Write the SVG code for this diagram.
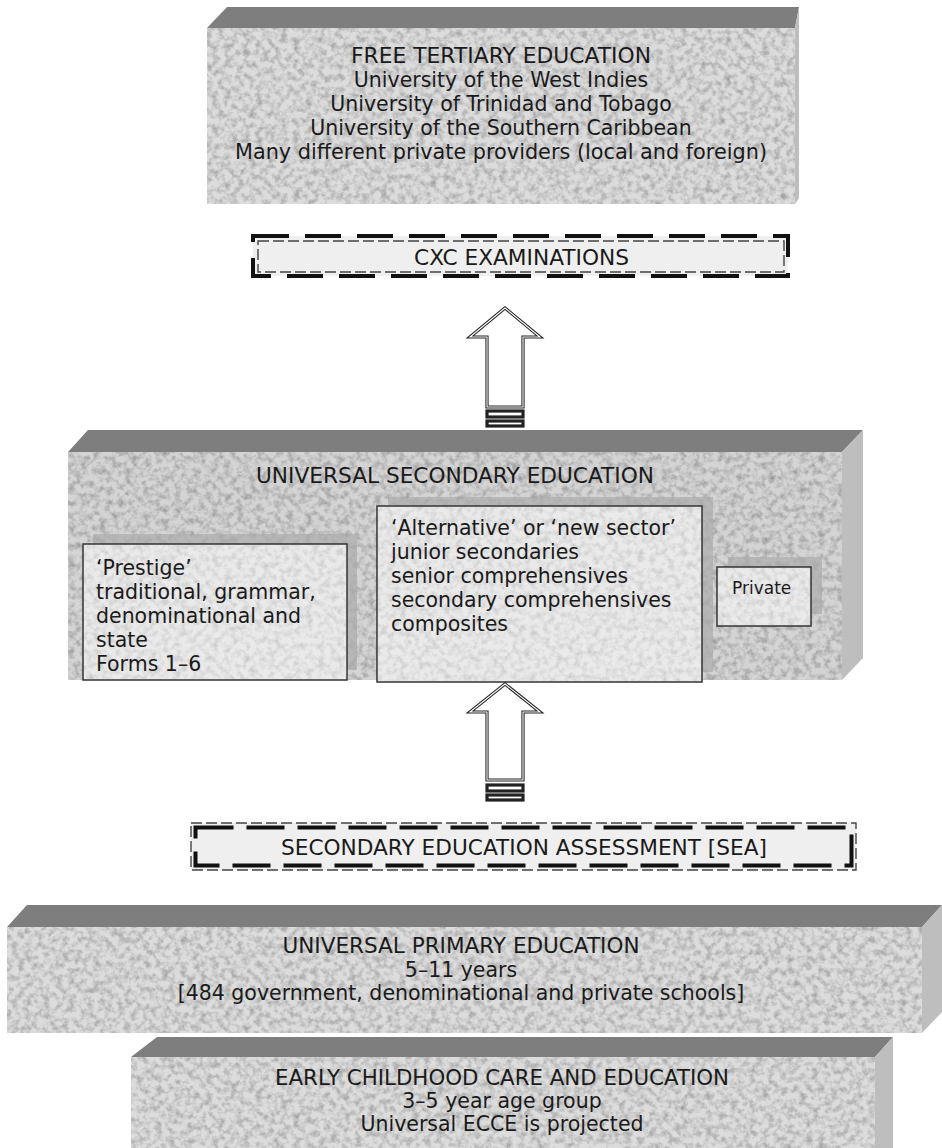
<svg xmlns="http://www.w3.org/2000/svg" width="942" height="1148" viewBox="0 0 942 1148">
<defs>
<filter id="grain" x="0" y="0" width="100%" height="100%">
<feTurbulence type="fractalNoise" baseFrequency="0.16" numOctaves="4" seed="7" result="n"/>
<feColorMatrix in="n" type="matrix" values="0 0 0 0 0  0 0 0 0 0  0 0 0 0 0  0.55 0 0 0 -0.22" result="a"/>
<feComposite in="a" in2="SourceGraphic" operator="in"/>
</filter>
</defs>
<style>
.front{fill:#dcdcdc}
.tex{fill:#000;filter:url(#grain)}
.topf{fill:#7e7e7e}
.side{fill:#bebebe}
.inner{fill:#eaeaea;stroke:#333;stroke-width:1.5}
.shadow{fill:#ababab;opacity:0.7}
.t{font-family:"DejaVu Sans",Verdana,sans-serif;font-size:20.5px;fill:#1a1a1a}
.c{text-anchor:middle}
.p{font-size:17px}
.thick{fill:none;stroke:#111;stroke-width:4}
.thin{fill:none;stroke:#444;stroke-width:1.4;stroke-dasharray:11 4}
.lab{fill:#efefef}
.arr{fill:#fff;stroke:#222;stroke-width:3.2;stroke-linejoin:miter}
.arrin{fill:none;stroke:#fff;stroke-width:1.1}
</style>

<g id="tertiary">
<polygon class="topf" points="207,28 227,7 799,7 795,28"/>
<polygon class="side" points="795,28 799,7 799,198 795,204"/>
<rect class="front" x="207" y="28" width="588" height="176"/>
<rect class="tex" x="207" y="28" width="588" height="176"/>
<text class="t c" x="501" y="63" textLength="300" lengthAdjust="spacingAndGlyphs">FREE TERTIARY EDUCATION</text>
<text class="t c" x="501" y="87">University of the West Indies</text>
<text class="t c" x="501" y="111">University of Trinidad and Tobago</text>
<text class="t c" x="501" y="135">University of the Southern Caribbean</text>
<text class="t c" x="501" y="159" textLength="532" lengthAdjust="spacingAndGlyphs">Many different private providers (local and foreign)</text>
</g>

<g id="cxc">
<rect class="lab" x="253" y="236" width="535" height="40"/>
<rect class="thick" x="253" y="236" width="535" height="40" stroke-dasharray="36 16"/>
<rect class="thin" x="258" y="241" width="526" height="31"/>
<text class="t c" x="521.5" y="265" textLength="215" lengthAdjust="spacingAndGlyphs">CXC EXAMINATIONS</text>
</g>

<g id="secondary">
<polygon class="topf" points="68,452 88,430 863,430 842,452"/>
<polygon class="side" points="842,452 863,430 863,658 842,680"/>
<rect class="front" x="68" y="452" width="774" height="228" style="fill:#d4d4d4"/>
<rect class="tex" x="68" y="452" width="774" height="228"/>
<text class="t c" x="455" y="483" textLength="398" lengthAdjust="spacingAndGlyphs">UNIVERSAL SECONDARY EDUCATION</text>
</g>

<g id="prestige">
<rect class="shadow" x="93" y="534" width="264" height="136"/>
<rect class="inner" x="83" y="544" width="264" height="136"/>
<rect class="tex" x="84" y="545" width="262" height="134" opacity="0.5"/>
<text class="t" x="96" y="575">‘Prestige’</text>
<text class="t" x="96" y="599">traditional, grammar,</text>
<text class="t" x="96" y="623">denominational and</text>
<text class="t" x="96" y="647">state</text>
<text class="t" x="96" y="671">Forms 1–6</text>
</g>

<g id="alternative">
<rect class="shadow" x="388" y="497" width="325" height="175"/>
<rect class="inner" x="377" y="506" width="325" height="176"/>
<rect class="tex" x="378" y="507" width="323" height="174" opacity="0.5"/>
<text class="t" x="391" y="535">‘Alternative’ or ‘new sector’</text>
<text class="t" x="391" y="559">junior secondaries</text>
<text class="t" x="391" y="583">senior comprehensives</text>
<text class="t" x="391" y="607">secondary comprehensives</text>
<text class="t" x="391" y="631">composites</text>
</g>

<g id="private">
<rect class="shadow" x="728" y="557" width="94" height="57"/>
<rect class="inner" x="717" y="567" width="94" height="59"/>
<rect class="tex" x="718" y="568" width="92" height="57" opacity="0.5"/>
<text class="t p" x="732" y="594">Private</text>
</g>

<g id="sea">
<rect class="lab" x="191" y="823" width="665" height="47"/>
<rect class="thin" x="191" y="823" width="665" height="47"/>
<rect class="thick" x="195.5" y="827.5" width="656" height="38" stroke-dasharray="38 13"/>
<text class="t c" x="524" y="855" textLength="486" lengthAdjust="spacingAndGlyphs">SECONDARY EDUCATION ASSESSMENT [SEA]</text>
</g>

<g id="primary">
<polygon class="topf" points="7,927 27,905 942,905 922,927"/>
<polygon class="side" points="922,927 942,905 942,1012 922,1033"/>
<rect class="front" x="7" y="927" width="915" height="106"/>
<rect class="tex" x="7" y="927" width="915" height="106"/>
<text class="t c" x="461" y="953" textLength="357" lengthAdjust="spacingAndGlyphs">UNIVERSAL PRIMARY EDUCATION</text>
<text class="t c" x="461" y="977">5–11 years</text>
<text class="t c" x="461" y="1000">[484 government, denominational and private schools]</text>
</g>

<g id="ecce">
<polygon class="topf" points="131,1057 157,1037 893,1037 875,1057"/>
<polygon class="side" points="875,1057 893,1037 893,1148 875,1148"/>
<rect class="front" x="131" y="1057" width="744" height="91"/>
<rect class="tex" x="131" y="1057" width="744" height="91"/>
<text class="t c" x="502" y="1085" textLength="454" lengthAdjust="spacingAndGlyphs">EARLY CHILDHOOD CARE AND EDUCATION</text>
<text class="t c" x="502" y="1108">3–5 year age group</text>
<text class="t c" x="502" y="1131">Universal ECCE is projected</text>
</g>

<g id="connectors">
<g id="arrow-sec-to-cxc">
<polygon class="arr" points="505,308 470,337 487,337 487,407 523,407 523,337 540,337"/>
<polygon class="arrin" points="505,308 470,337 487,337 487,407 523,407 523,337 540,337"/>
<rect class="arr" x="487" y="411" width="36" height="6"/>
<rect class="arr" x="487" y="421" width="36" height="5"/>
</g>
<g id="arrow-sea-to-sec">
<polygon class="arr" points="505,684 470,712 487,712 487,780 523,780 523,712 540,712"/>
<polygon class="arrin" points="505,684 470,712 487,712 487,780 523,780 523,712 540,712"/>
<rect class="arr" x="487" y="785" width="36" height="6"/>
<rect class="arr" x="487" y="795" width="36" height="5"/>
</g>
</g>
</svg>
